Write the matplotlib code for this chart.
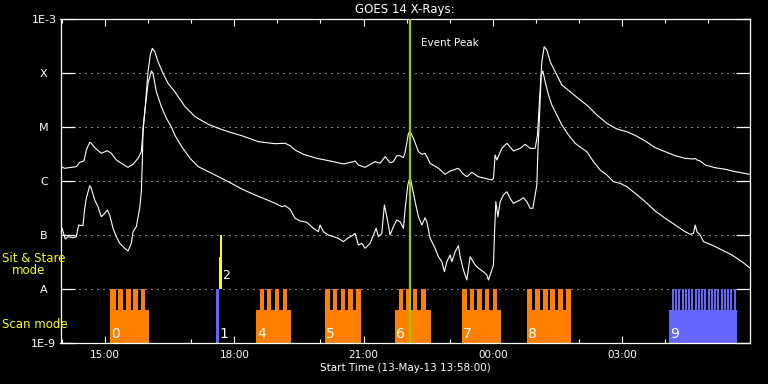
import matplotlib.pyplot as plt

# GOES 14 long channel (1-8 A): clock hours from 13-May-13 00:00, flux W/m2
long_time = [13.972, 14.064, 14.218, 14.334, 14.412, 14.512, 14.566, 14.645, 14.682, 14.761,
             14.914, 15.053, 15.146, 15.262, 15.378, 15.534, 15.650, 15.766, 15.843, 15.882,
             15.935, 15.998, 16.051, 16.098, 16.154, 16.230, 16.346, 16.462, 16.618, 16.857,
             17.089, 17.398, 17.630, 17.862, 18.173, 18.559, 18.946, 19.178, 19.294, 19.410,
             19.603, 19.914, 20.223, 20.532, 20.764, 20.803, 20.880, 21.035, 21.268, 21.384,
             21.500, 21.616, 21.692, 21.771, 21.848, 21.924, 21.964, 22.041, 22.080, 22.157,
             22.273, 22.352, 22.428, 22.544, 22.737, 22.892, 23.009, 23.201, 23.317, 23.396,
             23.512, 23.665, 23.821, 23.976, 24.014, 24.053, 24.093, 24.209, 24.325, 24.478,
             24.634, 24.750, 24.866, 24.982, 25.035, 25.081, 25.137, 25.191, 25.253, 25.330,
             25.406, 25.485, 25.601, 25.794, 26.026, 26.182, 26.414, 26.646, 26.878, 27.110,
             27.303, 27.535, 27.767, 27.999, 28.231, 28.464, 28.656, 28.696, 28.735, 28.812,
             28.928, 29.160, 29.392, 29.624, 29.960]
long_flux = [1.84e-6, 1.72e-6, 1.79e-6, 1.84e-6, 2.22e-6, 2.35e-6, 3.75e-6, 5.21e-6, 4.99e-6, 4.14e-6,
             3.26e-6, 3.64e-6, 3.26e-6, 2.45e-6, 2.13e-6, 1.79e-6, 2.04e-6, 2.63e-6, 3.49e-6, 8.18e-6,
             2.38e-5, 1.06e-4, 2.15e-4, 2.87e-4, 2.48e-4, 1.62e-4, 9.87e-5, 6.44e-5, 4.51e-5, 2.38e-5,
             1.55e-5, 1.12e-5, 9.46e-6, 8.18e-6, 6.90e-6, 5.35e-6, 4.91e-6, 4.99e-6, 4.51e-6, 3.75e-6,
             3.12e-6, 2.63e-6, 2.35e-6, 2.07e-6, 2.28e-6, 2.35e-6, 1.98e-6, 1.79e-6, 2.28e-6, 2.13e-6,
             2.82e-6, 2.18e-6, 2.28e-6, 2.94e-6, 2.94e-6, 2.70e-6, 3.40e-6, 7.64e-6, 8.18e-6, 6.18e-6,
             3.49e-6, 3.12e-6, 3.26e-6, 2.13e-6, 1.72e-6, 1.33e-6, 1.53e-6, 1.72e-6, 1.33e-6, 1.20e-6,
             1.45e-6, 1.20e-6, 1.12e-6, 1.04e-6, 1.12e-6, 3.03e-6, 2.45e-6, 4.03e-6, 4.99e-6, 3.60e-6,
             4.03e-6, 4.78e-6, 4.03e-6, 4.03e-6, 7.11e-6, 2.94e-5, 1.62e-4, 3.07e-4, 2.67e-4, 1.62e-4,
             1.22e-4, 9.18e-5, 6.00e-5, 4.51e-5, 3.16e-5, 2.55e-5, 1.67e-5, 1.17e-5, 9.18e-6, 8.18e-6,
             7.00e-6, 5.51e-6, 4.14e-6, 3.49e-6, 2.94e-6, 2.63e-6, 2.55e-6, 2.63e-6, 2.45e-6, 2.35e-6,
             1.98e-6, 1.76e-6, 1.65e-6, 1.49e-6, 1.33e-6]

# GOES 14 short channel (0.5-4 A)
short_time = [13.972, 14.025, 14.078, 14.141, 14.257, 14.334, 14.389, 14.489, 14.529, 14.566,
              14.645, 14.682, 14.761, 14.837, 14.914, 14.993, 15.053, 15.109, 15.186, 15.262,
              15.341, 15.457, 15.534, 15.610, 15.650, 15.727, 15.805, 15.843, 15.866, 15.882,
              15.935, 15.998, 16.075, 16.114, 16.191, 16.307, 16.423, 16.539, 16.618, 16.780,
              16.973, 17.166, 17.398, 17.630, 17.862, 18.173, 18.482, 18.714, 18.946, 19.102,
              19.178, 19.294, 19.410, 19.527, 19.682, 19.835, 19.951, 19.991, 20.067, 20.183,
              20.300, 20.416, 20.532, 20.648, 20.764, 20.803, 20.880, 20.959, 21.035, 21.152,
              21.228, 21.291, 21.344, 21.423, 21.483, 21.539, 21.616, 21.692, 21.771, 21.848,
              21.924, 21.964, 22.027, 22.080, 22.133, 22.196, 22.273, 22.352, 22.428, 22.468,
              22.544, 22.660, 22.737, 22.816, 22.876, 22.932, 23.009, 23.048, 23.125, 23.201,
              23.241, 23.317, 23.396, 23.473, 23.589, 23.665, 23.782, 23.860, 23.898, 23.937,
              24.014, 24.037, 24.069, 24.116, 24.169, 24.246, 24.325, 24.401, 24.478, 24.634,
              24.710, 24.789, 24.866, 24.928, 24.982, 25.021, 25.044, 25.081, 25.121, 25.160,
              25.214, 25.290, 25.369, 25.485, 25.601, 25.755, 25.910, 26.066, 26.182, 26.335,
              26.491, 26.646, 26.799, 26.955, 27.110, 27.303, 27.535, 27.767, 27.999, 28.231,
              28.464, 28.580, 28.656, 28.696, 28.735, 28.812, 28.888, 29.083, 29.316, 29.548,
              29.780, 29.960]
short_flux = [1.58e-7, 1.15e-7, 8.43e-8, 9.31e-8, 8.91e-8, 9.31e-8, 1.53e-7, 1.49e-7, 3.12e-7, 4.79e-7,
              8.18e-7, 7.32e-7, 4.45e-7, 3.34e-7, 2.18e-7, 2.52e-7, 2.90e-7, 2.35e-7, 1.33e-7, 9.31e-8,
              7.02e-8, 5.67e-8, 5.06e-8, 7.02e-8, 1.15e-7, 1.43e-7, 3.12e-7, 6.34e-7, 2.28e-6, 9.46e-6,
              2.38e-5, 6.44e-5, 1.09e-4, 9.87e-5, 4.51e-5, 2.38e-5, 1.45e-5, 1.01e-5, 7.11e-6, 4.32e-6,
              2.63e-6, 1.84e-6, 1.49e-6, 1.20e-6, 9.70e-7, 7.11e-7, 5.51e-7, 4.64e-7, 3.86e-7, 3.34e-7,
              3.49e-7, 3.00e-7, 2.04e-7, 1.82e-7, 1.72e-7, 1.33e-7, 1.15e-7, 1.53e-7, 1.15e-7, 1.00e-7,
              9.31e-8, 8.69e-8, 7.52e-8, 8.91e-8, 1.00e-7, 1.07e-7, 6.53e-8, 7.02e-8, 5.67e-8, 7.02e-8,
              1.00e-7, 1.33e-7, 9.31e-8, 1.07e-7, 3.60e-7, 2.18e-7, 1.00e-7, 1.43e-7, 1.90e-7, 1.76e-7,
              1.33e-7, 3.00e-7, 8.43e-7, 1.20e-6, 7.32e-7, 4.14e-7, 2.18e-7, 1.53e-7, 2.09e-7, 1.76e-7,
              8.69e-8, 5.67e-8, 3.96e-8, 3.20e-8, 2.09e-8, 3.20e-8, 4.26e-8, 3.20e-8, 4.91e-8, 6.34e-8,
              3.96e-8, 2.25e-8, 1.47e-8, 3.96e-8, 2.78e-8, 2.42e-8, 2.09e-8, 1.82e-8, 1.47e-8, 1.82e-8,
              2.78e-8, 1.00e-7, 4.14e-7, 2.18e-7, 4.14e-7, 5.51e-7, 6.34e-7, 4.79e-7, 3.86e-7, 4.45e-7,
              4.91e-7, 4.14e-7, 3.12e-7, 3.12e-7, 5.51e-7, 8.43e-7, 3.49e-6, 1.45e-5, 9.18e-5, 1.09e-4,
              6.90e-5, 3.92e-5, 2.55e-5, 1.67e-5, 1.09e-5, 7.11e-6, 4.99e-6, 4.03e-6, 3.49e-6, 2.28e-6,
              1.60e-6, 1.29e-6, 9.70e-7, 9.06e-7, 7.84e-7, 5.92e-7, 4.14e-7, 2.78e-7, 2.04e-7, 1.53e-7,
              1.15e-7, 1.03e-7, 1.07e-7, 1.53e-7, 1.15e-7, 1.00e-7, 7.52e-8, 6.53e-8, 5.27e-8, 4.26e-8,
              3.20e-8, 2.48e-8]

# Scan mode blocks: label, start, end, colour and the raster teeth (start, end)
block_labels = ['0', '4', '5', '6', '7', '8', '9']
block_start = [15.116, 18.505, 20.107, 21.732, 23.287, 24.796, 28.092]
block_end = [16.021, 19.318, 20.943, 22.567, 24.185, 25.817, 29.671]
block_colors = ['#ff8000', '#ff8000', '#ff8000', '#ff8000', '#ff8000', '#ff8000', '#6666ff']
block_teeth = [
    [(15.116, 15.244), (15.302, 15.418), (15.476, 15.592), (15.650, 15.766), (15.824, 15.929)],
    [(18.598, 18.691), (18.767, 18.853), (18.946, 19.032), (19.125, 19.218)],
    [(20.107, 20.223), (20.300, 20.392), (20.471, 20.571), (20.648, 20.750), (20.827, 20.943)],
    [(21.825, 21.924), (21.987, 22.080), (22.157, 22.250), (22.328, 22.452)],
    [(23.287, 23.396), (23.473, 23.566), (23.642, 23.744), (23.821, 23.921), (24.000, 24.093)],
    [(24.796, 24.919), (24.982, 25.098), (25.160, 25.276), (25.337, 25.453), (25.516, 25.632),
     (25.694, 25.817)],
    [(28.155, 28.201), (28.230, 28.276), (28.306, 28.352), (28.381, 28.427), (28.457, 28.503),
     (28.532, 28.578), (28.607, 28.653), (28.683, 28.729), (28.758, 28.804), (28.834, 28.880),
     (28.909, 28.955), (28.985, 29.031), (29.060, 29.106), (29.136, 29.182), (29.211, 29.257),
     (29.287, 29.333), (29.362, 29.408), (29.437, 29.483), (29.513, 29.559), (29.588, 29.634)],
]

# Block 1 (single scan) and block 2 (sit & stare)
scan1_start, scan1_end = 17.577, 17.646
stare_start, stare_mid, stare_end = 17.653, 17.669, 17.708

event_peak = 22.080
t_start, t_end = 13.967, 29.967

hour_ticks = [15, 18, 21, 24, 27]
hour_labels = ['15:00', '18:00', '21:00', '00:00', '03:00']
level_ticks = [1e-9, 1e-8, 1e-7, 1e-6, 1e-5, 1e-4, 1e-3]
level_labels = ['1E-9', 'A', 'B', 'C', 'M', 'X', '1E-3']

plt.rcParams['font.family'] = ['DejaVu Sans']
fig = plt.figure(figsize=(7.68, 3.84), dpi=100, facecolor='black')
ax = fig.add_axes([60.5 / 768, 1 - 343 / 384, 689.5 / 768, 324 / 384], facecolor='black')
ax.set_yscale('log')
ax.set_xlim(t_start, t_end)
ax.set_ylim(1e-9, 1e-3)

# dotted class levels
for lev in level_ticks[1:-1]:
    ax.axhline(lev, color='white', lw=0.72, ls=(0, (1, 5)), zorder=1)

# scan blocks
base_level = 4.1e-9
comb_level = 1e-8
for lab, s, e, col, teeth in zip(block_labels, block_start, block_end, block_colors, block_teeth):
    ax.bar(s, base_level - 1e-9, width=e - s, bottom=1e-9, align='edge', color=col, lw=0, zorder=2)
    for ts, te in teeth:
        ax.bar(ts, comb_level - 1e-9, width=te - ts, bottom=1e-9, align='edge', color=col, lw=0, zorder=2)
    ax.text(s + 0.02, 1.25e-9, lab, color='white', fontsize=10, ha='left', va='baseline', zorder=5)

ax.bar(scan1_start, comb_level - 1e-9, width=scan1_end - scan1_start, bottom=1e-9,
       align='edge', color='#6666ff', lw=0, zorder=2)
ax.text(scan1_end + 0.01, 1.25e-9, '1', color='white', fontsize=10, ha='left', va='baseline', zorder=5)
ax.bar(stare_mid, 1e-7 - comb_level, width=stare_end - stare_mid, bottom=comb_level,
       align='edge', color='#ffff00', lw=0, zorder=2)
ax.bar(stare_start, 3.9e-8 - comb_level, width=stare_end - stare_start, bottom=comb_level,
       align='edge', color='#ffff00', lw=0, zorder=2)
ax.text(stare_end + 0.01, 1.55e-8, '2', color='white', fontsize=9, ha='left', va='baseline', zorder=5)

# GOES curves
ax.plot(long_time, long_flux, color='white', lw=0.8, zorder=3)
ax.plot(short_time, short_flux, color='white', lw=0.8, zorder=3)

# event peak
ax.axvline(event_peak, color='#99cc00', lw=1.6, zorder=4)
ax.text(event_peak + 0.25, 10 ** -3.45, 'Event Peak', color='white', fontsize=7.5, va='center', ha='left')

# axes
for sp in ax.spines.values():
    sp.set_color('white')
    sp.set_linewidth(0.9)
ax.set_xticks(hour_ticks)
ax.set_xticklabels(hour_labels)
ax.set_xticks(range(14, 30), minor=True)
ax.set_yticks(level_ticks)
ax.set_yticklabels(level_labels, ha='center')
ax.yaxis.set_minor_locator(plt.NullLocator())
ax.tick_params(axis='x', which='major', direction='in', top=True, length=5, width=0.8,
               color='white', labelcolor='white', labelsize=7.5, pad=5)
ax.tick_params(axis='x', which='minor', direction='in', top=True, length=3, width=0.8, color='white')
ax.tick_params(axis='y', which='major', direction='in', right=True, length=10, width=0.9,
               color='white', labelcolor='white', labelsize=8, pad=12)

fig.text(405 / 768, 1 - 9 / 384, 'GOES 14 X-Rays:', color='white', fontsize=8.5, ha='center', va='center')
fig.text(405 / 768, 1 - 368 / 384, 'Start Time (13-May-13 13:58:00)', color='white', fontsize=7.5,
         ha='center', va='center')
fig.text(2 / 768, 1 - 259 / 384, 'Sit & Stare', color='#ffff00', fontsize=8.5, ha='left', va='center')
fig.text(12 / 768, 1 - 271 / 384, 'mode', color='#ffff00', fontsize=8.5, ha='left', va='center')
fig.text(2 / 768, 1 - 324 / 384, 'Scan mode', color='#ffff00', fontsize=8.5, ha='left', va='center')

fig.savefig('out.png', dpi=100, facecolor='black')
